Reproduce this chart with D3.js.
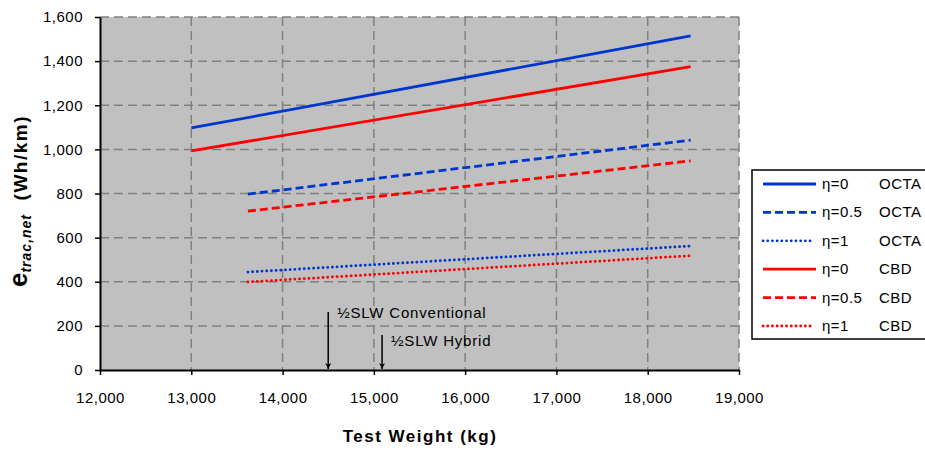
<!DOCTYPE html>
<html>
<head>
    <meta charset="utf-8">
    <style>
        body { margin: 0; background: #fff; }
        svg { font-family: 'Liberation Sans', Arial, sans-serif; }
        .axis text { font-size: 15px; fill: #000; letter-spacing: 0.5px; }
        .grid line { stroke: #808080; stroke-width: 1.5px; stroke-dasharray: 9,5; }
        .note { font-size: 15px; letter-spacing: 0.8px; }
        .leg { font-size: 15px; letter-spacing: 0.5px; }
    </style>
</head>
<body>
<svg width="925" height="450"></svg>

<script src="https://d3js.org/d3.v7.min.js"></script>
<script>
    // data
    let weightsEta0 = [13000, 18470];
    let weightsEta = [13620, 18470];
    let octa0 = [1097, 1514];
    let octa05 = [797, 1042];
    let octa1 = [444, 562];
    let cbd0 = [993, 1375];
    let cbd05 = [720, 948];
    let cbd1 = [399, 518];
    let xTicks = [12000, 13000, 14000, 15000, 16000, 17000, 18000, 19000];
    let yTicks = [0, 200, 400, 600, 800, 1000, 1200, 1400, 1600];
    let legendEta = ["η=0", "η=0.5", "η=1", "η=0", "η=0.5", "η=1"];
    let legendCycle = ["OCTA", "OCTA", "OCTA", "CBD", "CBD", "CBD"];
    let slwMarks = [
        { w: 14500, top: 263, labelAt: 236, label: "½SLW Conventional" },
        { w: 15090, top: 159, labelAt: 110, label: "½SLW Hybrid" }
    ];

    let blue = "#0036d0", red = "#ff0000";
    let series = [
        { x: weightsEta0, y: octa0, color: blue, style: "solid" },
        { x: weightsEta, y: octa05, color: blue, style: "dash" },
        { x: weightsEta, y: octa1, color: blue, style: "dot" },
        { x: weightsEta0, y: cbd0, color: red, style: "solid" },
        { x: weightsEta, y: cbd05, color: red, style: "dash" },
        { x: weightsEta, y: cbd1, color: red, style: "dot" }
    ];
    let dashes = { solid: null, dash: "8,4", dot: "0.1,4.6" };

    let margin = { top: 17, left: 100 };
    let w = 639, h = 353;

    let svg = d3.select("svg");
    let g = svg.append("g").attr("transform", `translate(${margin.left},${margin.top})`);

    let x = d3.scaleLinear().domain([12000, 19000]).range([0, w]);
    let y = d3.scaleLinear().domain([0, 1600]).range([h, 0]);

    g.append("rect").attr("width", w).attr("height", h).attr("fill", "#c0c0c0");

    // gridlines
    g.append("g").attr("class", "grid")
        .selectAll("line").data(yTicks.slice(1)).enter().append("line")
        .attr("x1", 0).attr("x2", w)
        .attr("y1", d => y(d)).attr("y2", d => y(d));
    g.append("g").attr("class", "grid")
        .selectAll("line").data(xTicks.slice(1)).enter().append("line")
        .attr("y1", 0).attr("y2", h)
        .attr("x1", d => x(d)).attr("x2", d => x(d));

    // lines
    let line = d3.line().x(d => x(d[0])).y(d => y(d[1]));
    series.forEach(s => {
        g.append("path")
            .datum(s.x.map((v, i) => [v, s.y[i]]))
            .attr("d", line)
            .attr("fill", "none")
            .attr("stroke", s.color)
            .attr("stroke-width", 2.8)
            .attr("stroke-linecap", s.style == "dot" ? "round" : "butt")
            .attr("stroke-dasharray", dashes[s.style]);
    });

    // axes
    let xAxis = g.append("g").attr("class", "axis")
        .attr("transform", `translate(0,${h})`)
        .call(d3.axisBottom(x).tickValues(xTicks).tickFormat(d3.format(",")).tickSize(5).tickPadding(17).tickSizeOuter(0));
    let yAxis = g.append("g").attr("class", "axis")
        .call(d3.axisLeft(y).tickValues(yTicks).tickFormat(d3.format(",")).tickSize(5).tickPadding(12).tickSizeOuter(0));
    [xAxis, yAxis].forEach(a => {
        a.select(".domain").attr("stroke", "#000").attr("stroke-width", 2);
        a.selectAll(".tick line").attr("stroke", "#000").attr("stroke-width", 1.5);
    });

    // arrows for half SLW
    svg.append("defs").append("marker")
        .attr("id", "arrow").attr("viewBox", "0 0 10 10")
        .attr("refX", 10).attr("refY", 5)
        .attr("markerWidth", 6).attr("markerHeight", 10)
        .attr("markerUnits", "userSpaceOnUse")
        .attr("orient", "auto")
        .append("path").attr("d", "M0,0 L10,5 L0,10 L3,5 z").attr("fill", "#000");

    slwMarks.forEach(m => {
        g.append("line")
            .attr("x1", x(m.w)).attr("x2", x(m.w))
            .attr("y1", y(m.top)).attr("y2", h - 1)
            .attr("stroke", "#000").attr("stroke-width", 1.5)
            .attr("marker-end", "url(#arrow)");
        g.append("text").attr("class", "note")
            .attr("x", x(m.w) + 9).attr("y", y(m.labelAt))
            .text(m.label);
    });

    // axis titles
    svg.append("text")
        .attr("x", 420).attr("y", 442)
        .attr("text-anchor", "middle")
        .style("font-size", "17px").style("font-weight", "bold").style("letter-spacing", "1.5px")
        .text("Test Weight (kg)");

    let yt = svg.append("text")
        .attr("transform", "translate(27,201) rotate(-90)")
        .attr("text-anchor", "middle")
        .style("font-weight", "bold");
    yt.append("tspan").style("font-size", "26px").text("e");
    yt.append("tspan").attr("dy", 4).style("font-size", "14px").style("font-style", "italic")
        .style("letter-spacing", "1px").text("trac,net");
    yt.append("tspan").attr("dy", -4).style("font-size", "19px").style("letter-spacing", "1.5px")
        .text("\u00a0 (Wh/km)");

    // legend
    let lg = svg.append("g").attr("transform", "translate(752,170)");
    lg.append("rect").attr("width", 190).attr("height", 169)
        .attr("fill", "#fff").attr("stroke", "#000").attr("stroke-width", 1.5);
    series.forEach((s, i) => {
        let ly = 14 + i * 28.4;
        lg.append("line")
            .attr("x1", 11).attr("x2", s.style == "dot" ? 60 : 64)
            .attr("y1", ly).attr("y2", ly)
            .attr("stroke", s.color).attr("stroke-width", 2.8)
            .attr("stroke-linecap", s.style == "dot" ? "round" : "butt")
            .attr("stroke-dasharray", dashes[s.style]);
        lg.append("text").attr("class", "leg").attr("x", 70).attr("y", ly + 5).text(legendEta[i]);
        lg.append("text").attr("class", "leg").attr("x", 127).attr("y", ly + 5).text(legendCycle[i]);
    });
</script>
</body>
</html>
